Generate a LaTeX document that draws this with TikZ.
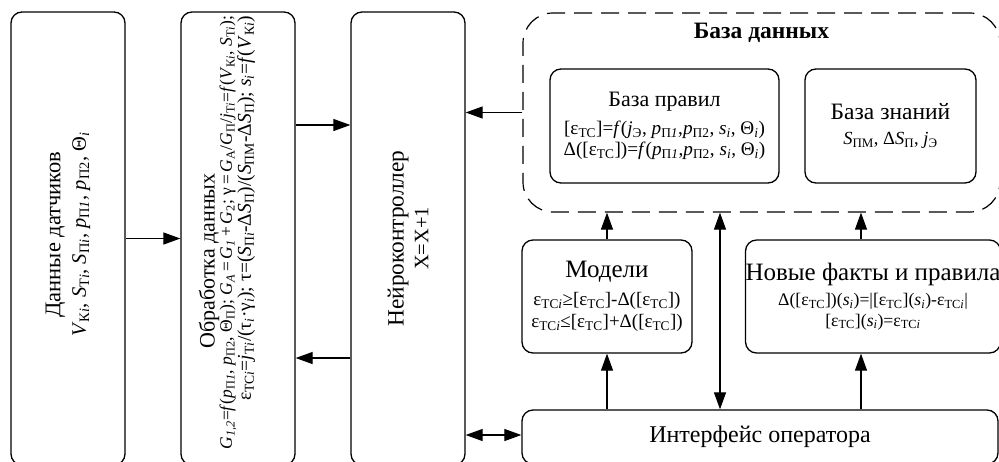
\documentclass[tikz,border=0pt]{standalone}
\usepackage{fontspec}
\setmainfont{Liberation Serif}
\usetikzlibrary{arrows.meta,positioning}

\newcommand{\sbs}[1]{\textsubscript{#1}}
\newcommand{\iv}[1]{\textit{#1}}
\newcommand{\eTC}{ε\sbs{ТС}}
\newcommand{\eTCi}{ε\sbs{ТС\iv{i}}}
\newcommand{\bigf}{\fontsize{23.5}{27}\selectfont}
\newcommand{\fsz}[1]{\fontsize{#1}{1.1\dimexpr#1pt\relax}\selectfont}

\begin{document}
\begin{tikzpicture}[x=1pt,y=-1pt,>={Triangle[length=17pt,width=12pt]},line width=1.2pt,
    blk/.style={draw,line width=1.3pt,rounded corners=11pt,inner sep=0pt,align=center},
    vblk/.style={blk,minimum width=114pt,minimum height=453pt},
    vtxt/.style={rotate=90,align=center,inner sep=0pt}]
  \useasboundingbox (0,0) rectangle (999,461);

  % left column of blocks
  \node[vblk] (sens) at (68,238.5) {};
  \node[vtxt,font=\fsz{20.5}] (sens-t) at ([yshift=4pt]sens.center) {{\fontsize{22.5}{26}\selectfont Данные датчиков}\\[3pt]
    \iv{V}\sbs{К\iv{i}}, \iv{S}\sbs{Т\iv{i}}, \iv{S}\sbs{П\iv{i}}, \iv{p}\sbs{П\iv{1}}, \iv{p}\sbs{П2}, Θ\sbs{\iv{i}}};
  \node[vblk] (proc) at (238,238.5) {};
  \node[vtxt,font=\fsz{22}] (proc-t) at (209,261) {Обработка данных};
  \node[vtxt,font=\fsz{17.5}] (proc-a) at (228,232.5) {\iv{G}\sbs{\iv{1,2}}=\iv{f}(\iv{p}\sbs{П\iv{1}}, \iv{p}\sbs{П2}, Θ\sbs{П}); \iv{G}\sbs{\iv{A}}\,=\,\iv{G}\sbs{\iv{1}}\,+\,\iv{G}\sbs{2}; γ\,=\,\iv{G}\sbs{А}/\iv{G}\sbs{П}/\iv{j}\sbs{Т\iv{i}}=\iv{f}(\iv{V}\sbs{К\iv{i}}, \iv{S}\sbs{Т\iv{i}});};
  \node[vtxt,font=\fsz{19.5}] (proc-b) at (246,208.5) {\eTCi=\iv{j}\sbs{Т\iv{i}}/(τ\sbs{\iv{i}}·γ\sbs{\iv{i}}); τ=(\iv{S}\sbs{П\iv{i}}-Δ\iv{S}\sbs{П})/(\iv{S}\sbs{ПМ}-Δ\iv{S}\sbs{П}); \iv{s}\sbs{\iv{i}}=\iv{f}(\iv{V}\sbs{К\iv{i}})};
  \node[vblk] (ctrl) at (408,238.5) {};
  \node[vtxt,font=\fsz{20.5}] (ctrl-t) at (ctrl) {{\fontsize{23.3}{27}\selectfont Нейроконтроллер}\\[2pt] X=X+1};

  % database
  \node[draw,dash pattern=on 18pt off 9pt,rounded corners=30pt,minimum width=477pt,minimum height=199pt] (db) at (761.5,112.5) {};
  \node[font=\fontsize{23.5}{27}\selectfont\bfseries] (db-t) at ([yshift=-20pt]db.north) {База данных};
  \node[blk,minimum width=229pt,minimum height=114pt,font=\fontsize{19.2}{21.5}\selectfont] (rules) at (664.5,126)
    {{\fontsize{22}{26}\selectfont База правил}\\[6pt]
     {[}\eTC]=\iv{f}(\iv{j}\sbs{Э}, \iv{p}\sbs{П\iv{1}},\iv{p}\sbs{П2}, \iv{s}\sbs{\iv{i}}, Θ\sbs{\iv{i}})\\
     Δ([\eTC])=\iv{f}(\iv{p}\sbs{П\iv{1}},\iv{p}\sbs{П2}, \iv{s}\sbs{\iv{i}}, Θ\sbs{\iv{i}})};
  \node[blk,minimum width=171pt,minimum height=114pt,font=\fsz{18.5}] (know) at (890.5,126)
    {{\bigf База знаний}\\[5pt] \iv{S}\sbs{ПМ}, Δ\iv{S}\sbs{П}, \iv{j}\sbs{Э}};

  % lower row
  \node[blk,minimum width=170pt,minimum height=113pt,font=\fontsize{19}{22}\selectfont] (models) at (607,296.5)
    {{\fontsize{25}{28}\selectfont Модели}\\[6pt] \eTCi≥[\eTC]-Δ([\eTC])\\ \eTCi≤[\eTC]+Δ([\eTC])};
  \node[blk,minimum width=250pt,minimum height=113pt,font=\fontsize{17.7}{20.5}\selectfont] (facts) at (873,296.5)
    {{\fontsize{25}{28}\selectfont Новые факты и правила}\\[5pt]
     Δ([\eTC])(\iv{s}\sbs{\iv{i}})=|[\eTC](\iv{s}\sbs{\iv{i}})-\eTCi|\\
     {[}\eTC](\iv{s}\sbs{\iv{i}})=\eTCi};
  \node[blk,minimum width=476pt,minimum height=54pt,font=\fsz{24}] (iface) at (760,437) {Интерфейс оператора};

  % connectors
  \draw[->] (sens) -- (proc);
  \draw[->] ([yshift=113.5pt]proc.east) -- ([yshift=113.5pt]ctrl.west);
  \draw[->] ([yshift=-119.5pt]ctrl.west) -- ([yshift=-119.5pt]proc.east);
  \draw[->] (db.west) -- (db.west -| ctrl.east);
  \draw[<->] ([yshift=2pt]iface.west) -- ([yshift=2pt]iface.west -| ctrl.east);
  \draw[->] (models) -- (models |- db.south);
  \draw[->] (models |- iface.north) -- (models);
  \draw[->] ([xshift=-12pt]facts.north) -- ([xshift=-12pt]facts.north |- db.south);
  \draw[->] ([xshift=-12pt]facts.south |- iface.north) -- ([xshift=-12pt]facts.south);
  \draw[<->] ([xshift=-40pt]iface.north) -- ([xshift=-40pt]iface.north |- db.south);
\end{tikzpicture}
\end{document}
